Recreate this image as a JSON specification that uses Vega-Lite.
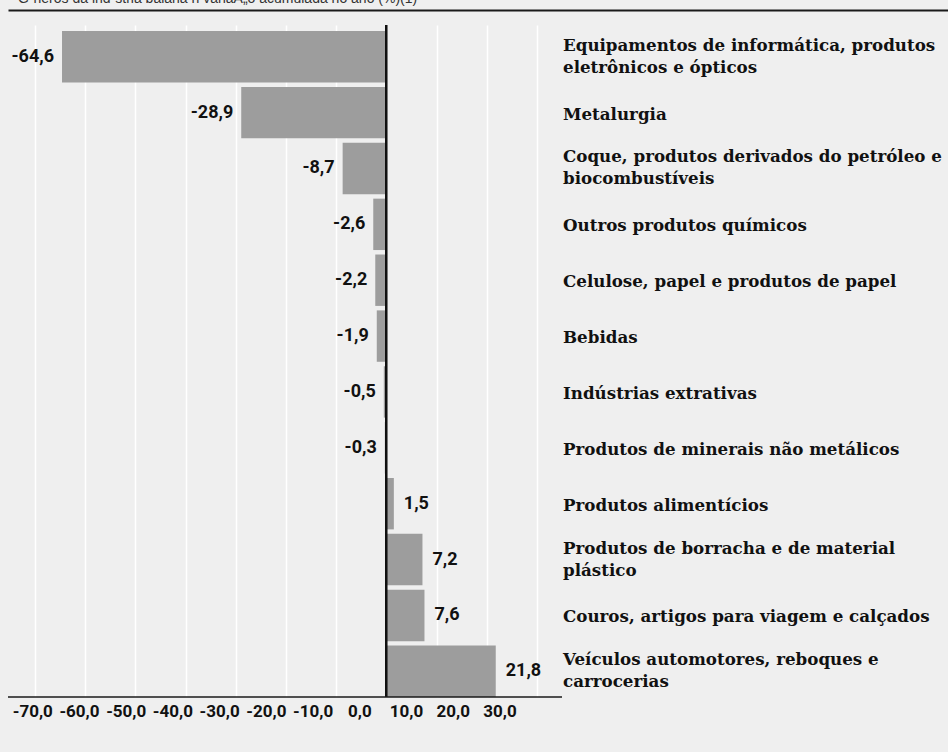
{
  "$schema": "https://vega.github.io/schema/vega-lite/v6.json",
  "autosize": {"type": "none"},
  "width": 940,
  "height": 672,
  "padding": {"left": 8, "top": 25, "right": 0, "bottom": 55},
  "background": "#efefef",
  "title": {
    "text": "Gˆneros da ind˙stria baiana ñ variaÁ„o acumulada no ano (%)(1)",
    "anchor": "start",
    "frame": "group",
    "dx": 10,
    "dy": 12,
    "offset": 5,
    "baseline": "alphabetic",
    "font": "Liberation Sans",
    "fontSize": 14,
    "fontWeight": "normal",
    "color": "#333333"
  },
  "config": {
    "locale": {"number": {"decimal": ",", "thousands": ".", "grouping": [3], "currency": ["R$", ""], "minus": "-"}},
    "view": {"stroke": null}
  },
  "data": {
    "values": [
      {"cat": "Equipamentos de informática, produtos\neletrônicos e ópticos", "v": -64.6},
      {"cat": "Metalurgia", "v": -28.9},
      {"cat": "Coque, produtos derivados do petróleo e\nbiocombustíveis", "v": -8.7},
      {"cat": "Outros produtos químicos", "v": -2.6},
      {"cat": "Celulose, papel e produtos de papel", "v": -2.2},
      {"cat": "Bebidas", "v": -1.9},
      {"cat": "Indústrias extrativas", "v": -0.5},
      {"cat": "Produtos de minerais não metálicos", "v": -0.3},
      {"cat": "Produtos alimentícios", "v": 1.5},
      {"cat": "Produtos de borracha e de material\nplástico", "v": 7.2},
      {"cat": "Couros, artigos para viagem e calçados", "v": 7.6},
      {"cat": "Veículos automotores, reboques e\ncarrocerias", "v": 21.8}
    ]
  },
  "layer": [
    {
      "mark": {"type": "bar", "color": "#9d9d9d"},
      "encoding": {
        "x": {
          "field": "v",
          "type": "quantitative",
          "scale": {"domain": [-75.36, 111.89], "nice": false, "zero": false},
          "axis": {
            "orient": "bottom",
            "title": null,
            "values": [-70, -60, -50, -40, -30, -20, -10, 0, 10, 20, 30],
            "format": ".1f",
            "grid": true,
            "gridColor": "#ffffff",
            "gridWidth": 1.5,
            "domain": false,
            "ticks": false,
            "labelFont": "Roboto",
            "labelFontWeight": "bold",
            "labelFontSize": 17,
            "labelColor": "#111111",
            "labelPadding": 6,
            "labelFlush": false,
            "labelOverlap": false,
            "labelOffset": {"expr": "-27 - 0.348 * datum.value"}
          }
        },
        "y": {
          "field": "cat",
          "type": "nominal",
          "sort": null,
          "scale": {"paddingInner": 0.08, "paddingOuter": 0.054, "align": 1},
          "axis": null
        }
      }
    },
    {
      "mark": {"type": "rule", "color": "#111111", "strokeWidth": 1.5},
      "encoding": {
        "x": {
          "datum": 0,
          "type": "quantitative",
          "axis": {
            "orient": "top",
            "offset": 15,
            "title": null,
            "labels": false,
            "ticks": false,
            "grid": false,
            "domain": true,
            "domainColor": "#1a1a1a",
            "domainWidth": 2
          }
        }
      }
    },
    {
      "transform": [{"filter": "datum.v < 0"}],
      "mark": {"type": "text", "align": "right", "baseline": "middle", "dx": -8, "font": "Roboto", "fontWeight": "bold", "fontSize": 18, "color": "#111111"},
      "encoding": {
        "x": {"field": "v", "type": "quantitative", "axis": null},
        "y": {"field": "cat", "type": "nominal", "sort": null, "axis": null},
        "text": {"field": "v", "type": "quantitative", "format": ".1f"}
      }
    },
    {
      "transform": [{"filter": "datum.v > 0"}],
      "mark": {"type": "text", "align": "left", "baseline": "middle", "dx": 10, "font": "Roboto", "fontWeight": "bold", "fontSize": 18, "color": "#111111"},
      "encoding": {
        "x": {"field": "v", "type": "quantitative", "axis": null},
        "y": {"field": "cat", "type": "nominal", "sort": null, "axis": null},
        "text": {"field": "v", "type": "quantitative", "format": ".1f"}
      }
    },
    {
      "transform": [{"filter": "indexof(datum.cat, '\\n') < 0"}],
      "mark": {"type": "text", "align": "left", "baseline": "middle", "dy": 2, "font": "DejaVu Serif", "fontWeight": "bold", "fontSize": 16.7, "color": "#111111"},
      "encoding": {
        "x": {"datum": 35.2, "type": "quantitative", "axis": null},
        "y": {"field": "cat", "type": "nominal", "sort": null, "axis": null},
        "text": {"field": "cat", "type": "nominal"}
      }
    },
    {
      "transform": [{"filter": "indexof(datum.cat, '\\n') >= 0"}],
      "mark": {"type": "text", "align": "left", "baseline": "middle", "dy": -11, "lineBreak": "\n", "lineHeight": 22, "font": "DejaVu Serif", "fontWeight": "bold", "fontSize": 16.7, "color": "#111111"},
      "encoding": {
        "x": {"datum": 35.2, "type": "quantitative", "axis": null},
        "y": {"field": "cat", "type": "nominal", "sort": null, "axis": null},
        "text": {"field": "cat", "type": "nominal"}
      }
    },
    {
      "transform": [{"filter": "datum.v > 20"}],
      "mark": {"type": "rule", "color": "#1a1a1a", "strokeWidth": 1.5},
      "encoding": {
        "x": {"datum": -75.36, "type": "quantitative", "axis": null},
        "x2": {"datum": 35},
        "y": {"field": "cat", "type": "nominal", "sort": null, "bandPosition": 1, "axis": null}
      }
    }
  ],
  "resolve": {"axis": {"x": "independent"}}
}
